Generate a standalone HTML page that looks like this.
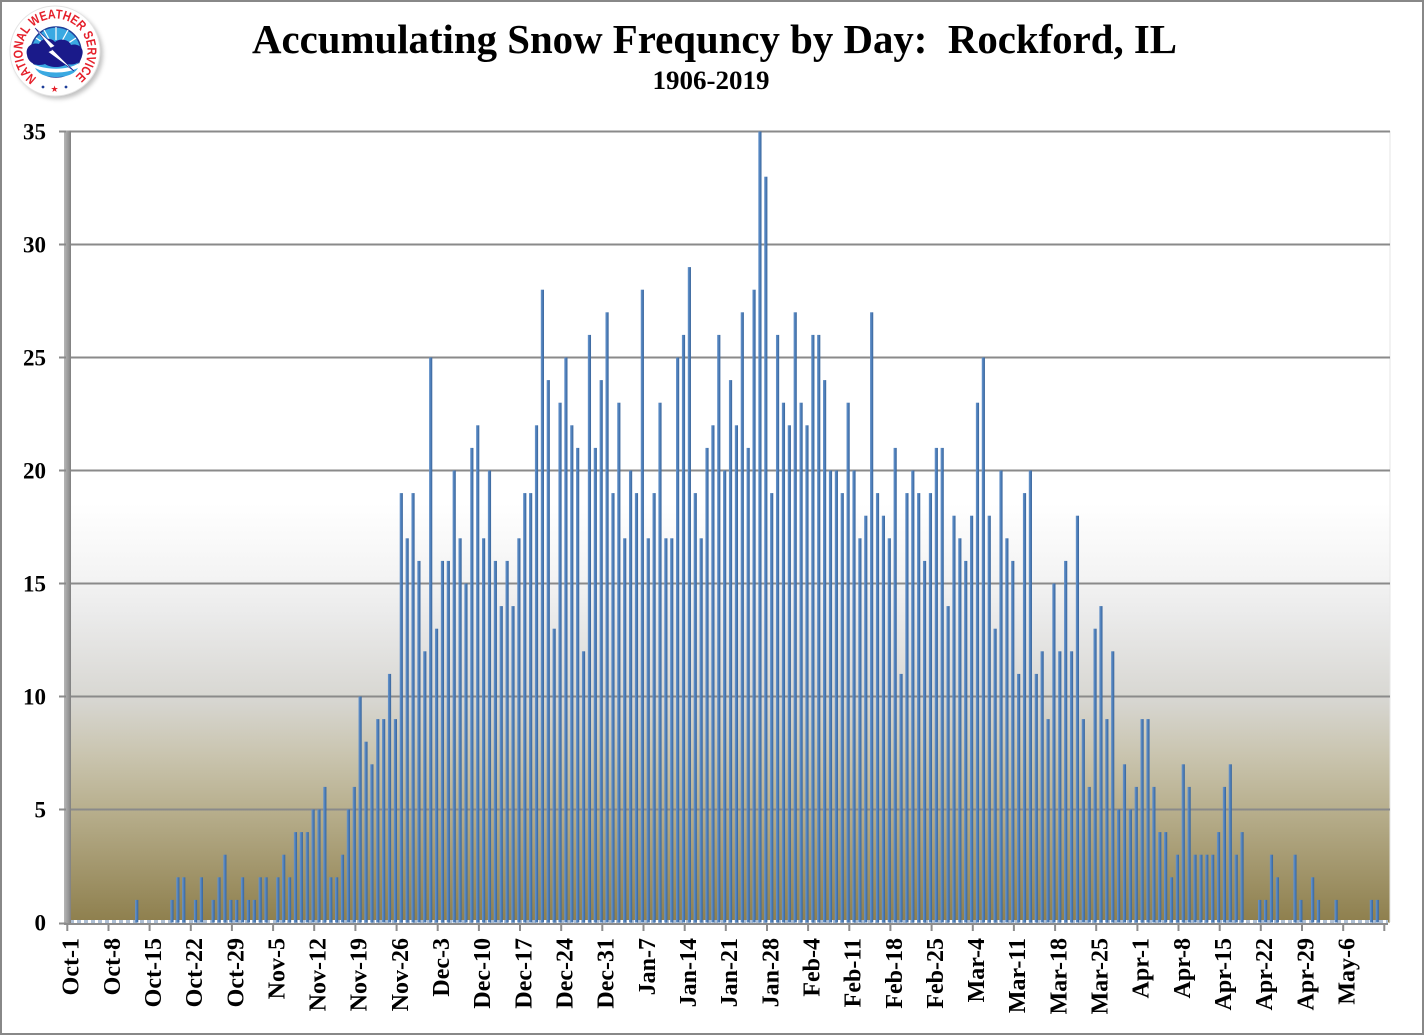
<!DOCTYPE html>
<html><head><meta charset="utf-8"><style>
html,body{margin:0;padding:0;background:#fff;}
svg{display:block;}
.t{font-family:"Liberation Serif",serif;font-weight:bold;fill:#000;}
</style></head><body>
<svg width="1424" height="1035" viewBox="0 0 1424 1035" xmlns="http://www.w3.org/2000/svg">
<defs>
<linearGradient id="bg" x1="0" y1="0" x2="0" y2="1">
<stop offset="0" stop-color="#ffffff"/>
<stop offset="0.47" stop-color="#ffffff"/>
<stop offset="0.56" stop-color="#f4f4f4"/>
<stop offset="0.61" stop-color="#ebebeb"/>
<stop offset="0.72" stop-color="#d7d6d1"/>
<stop offset="0.79" stop-color="#c9c4ae"/>
<stop offset="0.86" stop-color="#b7ae8c"/>
<stop offset="1" stop-color="#8e7f4d"/>
</linearGradient>
<linearGradient id="bar" x1="0" y1="0" x2="1" y2="0">
<stop offset="0" stop-color="#6a96cc"/>
<stop offset="0.45" stop-color="#4f81bd"/>
<stop offset="1" stop-color="#3a6498"/>
</linearGradient>
<linearGradient id="wall" x1="0" y1="0" x2="1" y2="0">
<stop offset="0" stop-color="#b5b5b5"/>
<stop offset="0.6" stop-color="#9a9a9a"/>
<stop offset="1" stop-color="#7f7f7f"/>
</linearGradient>
<filter id="blur" x="-20%" y="-20%" width="140%" height="140%"><feGaussianBlur stdDeviation="2"/></filter>
<path id="arc" d="M 36.8 77.9 A 32.5 32.5 0 1 1 73.2 77.9"/>
</defs>

<!-- outer frame -->
<rect x="1" y="1" width="1422" height="1033" fill="#fff" stroke="#888" stroke-width="2"/>

<!-- logo -->
<g>
<circle cx="58" cy="54" r="45" fill="#777" opacity=".45" filter="url(#blur)"/>
<circle cx="55" cy="51" r="45" fill="#fff" stroke="#e4e4e4" stroke-width="1"/>
<circle cx="56" cy="52" r="25" fill="#3aa9e2" stroke="#1f3f99" stroke-width="1.5"/>
<path d="M56 27 L56 40 M44 30 L50 41 M68 30 L62 41 M36 38 L45 44 M76 38 L67 44" stroke="#fff" stroke-width="1.2"/>
<path d="M27 55 C25 47 32 42 39 44 C41 38 51 37 55 42 C59 38 69 39 71 45 C78 43 85 48 82 56 C81 62 75 66 67 64 C61 68 51 68 45 64 C37 67 28 63 27 55 Z" fill="#1a1a8a"/>
<path d="M33 64 C45 70 67 71 79 63 L78 68 C66 75 46 75 34 68 Z" fill="#fff"/>
<path d="M35 68 C46 74 66 74 78 68 C74 75 65 77 56 77 C47 77 39 75 35 68 Z" fill="#3aa9e2"/>
<path d="M35 28 L55 46 L51 48 L74 71 L48 52 L52 50 Z" fill="#fff" stroke="#1a1a8a" stroke-width=".6"/>
<text font-family="Liberation Sans, sans-serif" font-weight="bold" font-size="13" fill="#e5202b"><textPath href="#arc" textLength="163" lengthAdjust="spacingAndGlyphs">NATIONAL WEATHER SERVICE</textPath></text>
<circle cx="43" cy="87" r="1.4" fill="#1f3f99"/>
<circle cx="66" cy="87" r="1.4" fill="#1f3f99"/>
<text x="54.5" y="92" font-family="DejaVu Sans, sans-serif" font-size="9" fill="#e5202b" text-anchor="middle">★</text>
</g>

<!-- titles -->
<text class="t" x="714.5" y="53" font-size="41" text-anchor="middle" textLength="925" lengthAdjust="spacingAndGlyphs">Accumulating Snow Frequncy by Day:&#160; Rockford, IL</text>
<text class="t" x="711" y="89" font-size="26" text-anchor="middle" textLength="117" lengthAdjust="spacingAndGlyphs">1906-2019</text>

<!-- plot background -->
<rect x="70" y="131.5" width="1320" height="791" fill="url(#bg)"/>
<line x1="1390" y1="131" x2="1390" y2="922" stroke="#e6e6e6" stroke-width="1"/>

<!-- gridlines -->
<g stroke="#8a8a8a" stroke-width="2">
<line x1="70" y1="131.5" x2="1390" y2="131.5"/>
<line x1="70" y1="244.5" x2="1390" y2="244.5"/>
<line x1="70" y1="357.5" x2="1390" y2="357.5"/>
<line x1="70" y1="470.5" x2="1390" y2="470.5"/>
<line x1="70" y1="583.5" x2="1390" y2="583.5"/>
<line x1="70" y1="696.5" x2="1390" y2="696.5"/>
<line x1="70" y1="809.5" x2="1390" y2="809.5"/>
</g>

<!-- floor -->
<line x1="70" y1="921.5" x2="1388" y2="921.5" stroke="#fff" stroke-width="3"/>
<line x1="70" y1="921.5" x2="1388" y2="921.5" stroke="#aebfd4" stroke-width="3" stroke-dasharray="4 3"/>

<!-- bars -->
<g transform="translate(135.1 922.5) scale(5.8795 -22.6)" fill="url(#bar)">
<rect x="0" width=".544" height="1"/>
<rect x="6" width=".544" height="1"/>
<rect x="7" width=".544" height="2"/>
<rect x="8" width=".544" height="2"/>
<rect x="10" width=".544" height="1"/>
<rect x="11" width=".544" height="2"/>
<rect x="13" width=".544" height="1"/>
<rect x="14" width=".544" height="2"/>
<rect x="15" width=".544" height="3"/>
<rect x="16" width=".544" height="1"/>
<rect x="17" width=".544" height="1"/>
<rect x="18" width=".544" height="2"/>
<rect x="19" width=".544" height="1"/>
<rect x="20" width=".544" height="1"/>
<rect x="21" width=".544" height="2"/>
<rect x="22" width=".544" height="2"/>
<rect x="24" width=".544" height="2"/>
<rect x="25" width=".544" height="3"/>
<rect x="26" width=".544" height="2"/>
<rect x="27" width=".544" height="4"/>
<rect x="28" width=".544" height="4"/>
<rect x="29" width=".544" height="4"/>
<rect x="30" width=".544" height="5"/>
<rect x="31" width=".544" height="5"/>
<rect x="32" width=".544" height="6"/>
<rect x="33" width=".544" height="2"/>
<rect x="34" width=".544" height="2"/>
<rect x="35" width=".544" height="3"/>
<rect x="36" width=".544" height="5"/>
<rect x="37" width=".544" height="6"/>
<rect x="38" width=".544" height="10"/>
<rect x="39" width=".544" height="8"/>
<rect x="40" width=".544" height="7"/>
<rect x="41" width=".544" height="9"/>
<rect x="42" width=".544" height="9"/>
<rect x="43" width=".544" height="11"/>
<rect x="44" width=".544" height="9"/>
<rect x="45" width=".544" height="19"/>
<rect x="46" width=".544" height="17"/>
<rect x="47" width=".544" height="19"/>
<rect x="48" width=".544" height="16"/>
<rect x="49" width=".544" height="12"/>
<rect x="50" width=".544" height="25"/>
<rect x="51" width=".544" height="13"/>
<rect x="52" width=".544" height="16"/>
<rect x="53" width=".544" height="16"/>
<rect x="54" width=".544" height="20"/>
<rect x="55" width=".544" height="17"/>
<rect x="56" width=".544" height="15"/>
<rect x="57" width=".544" height="21"/>
<rect x="58" width=".544" height="22"/>
<rect x="59" width=".544" height="17"/>
<rect x="60" width=".544" height="20"/>
<rect x="61" width=".544" height="16"/>
<rect x="62" width=".544" height="14"/>
<rect x="63" width=".544" height="16"/>
<rect x="64" width=".544" height="14"/>
<rect x="65" width=".544" height="17"/>
<rect x="66" width=".544" height="19"/>
<rect x="67" width=".544" height="19"/>
<rect x="68" width=".544" height="22"/>
<rect x="69" width=".544" height="28"/>
<rect x="70" width=".544" height="24"/>
<rect x="71" width=".544" height="13"/>
<rect x="72" width=".544" height="23"/>
<rect x="73" width=".544" height="25"/>
<rect x="74" width=".544" height="22"/>
<rect x="75" width=".544" height="21"/>
<rect x="76" width=".544" height="12"/>
<rect x="77" width=".544" height="26"/>
<rect x="78" width=".544" height="21"/>
<rect x="79" width=".544" height="24"/>
<rect x="80" width=".544" height="27"/>
<rect x="81" width=".544" height="19"/>
<rect x="82" width=".544" height="23"/>
<rect x="83" width=".544" height="17"/>
<rect x="84" width=".544" height="20"/>
<rect x="85" width=".544" height="19"/>
<rect x="86" width=".544" height="28"/>
<rect x="87" width=".544" height="17"/>
<rect x="88" width=".544" height="19"/>
<rect x="89" width=".544" height="23"/>
<rect x="90" width=".544" height="17"/>
<rect x="91" width=".544" height="17"/>
<rect x="92" width=".544" height="25"/>
<rect x="93" width=".544" height="26"/>
<rect x="94" width=".544" height="29"/>
<rect x="95" width=".544" height="19"/>
<rect x="96" width=".544" height="17"/>
<rect x="97" width=".544" height="21"/>
<rect x="98" width=".544" height="22"/>
<rect x="99" width=".544" height="26"/>
<rect x="100" width=".544" height="20"/>
<rect x="101" width=".544" height="24"/>
<rect x="102" width=".544" height="22"/>
<rect x="103" width=".544" height="27"/>
<rect x="104" width=".544" height="21"/>
<rect x="105" width=".544" height="28"/>
<rect x="106" width=".544" height="35"/>
<rect x="107" width=".544" height="33"/>
<rect x="108" width=".544" height="19"/>
<rect x="109" width=".544" height="26"/>
<rect x="110" width=".544" height="23"/>
<rect x="111" width=".544" height="22"/>
<rect x="112" width=".544" height="27"/>
<rect x="113" width=".544" height="23"/>
<rect x="114" width=".544" height="22"/>
<rect x="115" width=".544" height="26"/>
<rect x="116" width=".544" height="26"/>
<rect x="117" width=".544" height="24"/>
<rect x="118" width=".544" height="20"/>
<rect x="119" width=".544" height="20"/>
<rect x="120" width=".544" height="19"/>
<rect x="121" width=".544" height="23"/>
<rect x="122" width=".544" height="20"/>
<rect x="123" width=".544" height="17"/>
<rect x="124" width=".544" height="18"/>
<rect x="125" width=".544" height="27"/>
<rect x="126" width=".544" height="19"/>
<rect x="127" width=".544" height="18"/>
<rect x="128" width=".544" height="17"/>
<rect x="129" width=".544" height="21"/>
<rect x="130" width=".544" height="11"/>
<rect x="131" width=".544" height="19"/>
<rect x="132" width=".544" height="20"/>
<rect x="133" width=".544" height="19"/>
<rect x="134" width=".544" height="16"/>
<rect x="135" width=".544" height="19"/>
<rect x="136" width=".544" height="21"/>
<rect x="137" width=".544" height="21"/>
<rect x="138" width=".544" height="14"/>
<rect x="139" width=".544" height="18"/>
<rect x="140" width=".544" height="17"/>
<rect x="141" width=".544" height="16"/>
<rect x="142" width=".544" height="18"/>
<rect x="143" width=".544" height="23"/>
<rect x="144" width=".544" height="25"/>
<rect x="145" width=".544" height="18"/>
<rect x="146" width=".544" height="13"/>
<rect x="147" width=".544" height="20"/>
<rect x="148" width=".544" height="17"/>
<rect x="149" width=".544" height="16"/>
<rect x="150" width=".544" height="11"/>
<rect x="151" width=".544" height="19"/>
<rect x="152" width=".544" height="20"/>
<rect x="153" width=".544" height="11"/>
<rect x="154" width=".544" height="12"/>
<rect x="155" width=".544" height="9"/>
<rect x="156" width=".544" height="15"/>
<rect x="157" width=".544" height="12"/>
<rect x="158" width=".544" height="16"/>
<rect x="159" width=".544" height="12"/>
<rect x="160" width=".544" height="18"/>
<rect x="161" width=".544" height="9"/>
<rect x="162" width=".544" height="6"/>
<rect x="163" width=".544" height="13"/>
<rect x="164" width=".544" height="14"/>
<rect x="165" width=".544" height="9"/>
<rect x="166" width=".544" height="12"/>
<rect x="167" width=".544" height="5"/>
<rect x="168" width=".544" height="7"/>
<rect x="169" width=".544" height="5"/>
<rect x="170" width=".544" height="6"/>
<rect x="171" width=".544" height="9"/>
<rect x="172" width=".544" height="9"/>
<rect x="173" width=".544" height="6"/>
<rect x="174" width=".544" height="4"/>
<rect x="175" width=".544" height="4"/>
<rect x="176" width=".544" height="2"/>
<rect x="177" width=".544" height="3"/>
<rect x="178" width=".544" height="7"/>
<rect x="179" width=".544" height="6"/>
<rect x="180" width=".544" height="3"/>
<rect x="181" width=".544" height="3"/>
<rect x="182" width=".544" height="3"/>
<rect x="183" width=".544" height="3"/>
<rect x="184" width=".544" height="4"/>
<rect x="185" width=".544" height="6"/>
<rect x="186" width=".544" height="7"/>
<rect x="187" width=".544" height="3"/>
<rect x="188" width=".544" height="4"/>
<rect x="191" width=".544" height="1"/>
<rect x="192" width=".544" height="1"/>
<rect x="193" width=".544" height="3"/>
<rect x="194" width=".544" height="2"/>
<rect x="197" width=".544" height="3"/>
<rect x="198" width=".544" height="1"/>
<rect x="200" width=".544" height="2"/>
<rect x="201" width=".544" height="1"/>
<rect x="204" width=".544" height="1"/>
<rect x="210" width=".544" height="1"/>
<rect x="211" width=".544" height="1"/>
</g>

<!-- left wall / y axis -->
<rect x="64" y="130.5" width="7" height="793" fill="url(#wall)"/>
<g stroke="#8a8a8a" stroke-width="2">
<line x1="59" y1="131.5" x2="66" y2="131.5"/>
<line x1="59" y1="244.5" x2="66" y2="244.5"/>
<line x1="59" y1="357.5" x2="66" y2="357.5"/>
<line x1="59" y1="470.5" x2="66" y2="470.5"/>
<line x1="59" y1="583.5" x2="66" y2="583.5"/>
<line x1="59" y1="696.5" x2="66" y2="696.5"/>
<line x1="59" y1="809.5" x2="66" y2="809.5"/>
<line x1="59" y1="923.5" x2="66" y2="923.5"/>
</g>

<!-- x axis -->
<line x1="64" y1="924" x2="1388" y2="924" stroke="#8c8c8c" stroke-width="2"/>
<path stroke="#8c8c8c" stroke-width="2" fill="none" d="M67.3 924V931M108.5 924V931M149.6 924V931M190.8 924V931M231.9 924V931M273.1 924V931M314.2 924V931M355.4 924V931M396.6 924V931M437.7 924V931M478.9 924V931M520 924V931M561.2 924V931M602.3 924V931M643.5 924V931M684.7 924V931M725.8 924V931M767 924V931M808.1 924V931M849.3 924V931M890.4 924V931M931.6 924V931M972.8 924V931M1013.9 924V931M1055.1 924V931M1096.2 924V931M1137.4 924V931M1178.5 924V931M1219.7 924V931M1260.8 924V931M1302 924V931M1343.2 924V931M1384.3 924V931"/>

<!-- y labels -->
<g class="t" font-size="23" text-anchor="end">
<text x="46" y="139.5">35</text>
<text x="46" y="252.5">30</text>
<text x="46" y="365.5">25</text>
<text x="46" y="478.5">20</text>
<text x="46" y="591.5">15</text>
<text x="46" y="704.5">10</text>
<text x="46" y="817.5">5</text>
<text x="46" y="930.5">0</text>
</g>

<!-- x labels -->
<g class="t" font-size="24" text-anchor="end">
<text transform="translate(70.2 938) rotate(-90)" dy=".35em">Oct-1</text>
<text transform="translate(111.4 938) rotate(-90)" dy=".35em">Oct-8</text>
<text transform="translate(152.6 938) rotate(-90)" dy=".35em">Oct-15</text>
<text transform="translate(193.7 938) rotate(-90)" dy=".35em">Oct-22</text>
<text transform="translate(234.9 938) rotate(-90)" dy=".35em">Oct-29</text>
<text transform="translate(276 938) rotate(-90)" dy=".35em">Nov-5</text>
<text transform="translate(317.2 938) rotate(-90)" dy=".35em">Nov-12</text>
<text transform="translate(358.3 938) rotate(-90)" dy=".35em">Nov-19</text>
<text transform="translate(399.5 938) rotate(-90)" dy=".35em">Nov-26</text>
<text transform="translate(440.7 938) rotate(-90)" dy=".35em">Dec-3</text>
<text transform="translate(481.8 938) rotate(-90)" dy=".35em">Dec-10</text>
<text transform="translate(523 938) rotate(-90)" dy=".35em">Dec-17</text>
<text transform="translate(564.1 938) rotate(-90)" dy=".35em">Dec-24</text>
<text transform="translate(605.3 938) rotate(-90)" dy=".35em">Dec-31</text>
<text transform="translate(646.4 938) rotate(-90)" dy=".35em">Jan-7</text>
<text transform="translate(687.6 938) rotate(-90)" dy=".35em">Jan-14</text>
<text transform="translate(728.8 938) rotate(-90)" dy=".35em">Jan-21</text>
<text transform="translate(769.9 938) rotate(-90)" dy=".35em">Jan-28</text>
<text transform="translate(811.1 938) rotate(-90)" dy=".35em">Feb-4</text>
<text transform="translate(852.2 938) rotate(-90)" dy=".35em">Feb-11</text>
<text transform="translate(893.4 938) rotate(-90)" dy=".35em">Feb-18</text>
<text transform="translate(934.5 938) rotate(-90)" dy=".35em">Feb-25</text>
<text transform="translate(975.7 938) rotate(-90)" dy=".35em">Mar-4</text>
<text transform="translate(1016.8 938) rotate(-90)" dy=".35em">Mar-11</text>
<text transform="translate(1058 938) rotate(-90)" dy=".35em">Mar-18</text>
<text transform="translate(1099.2 938) rotate(-90)" dy=".35em">Mar-25</text>
<text transform="translate(1140.3 938) rotate(-90)" dy=".35em">Apr-1</text>
<text transform="translate(1181.5 938) rotate(-90)" dy=".35em">Apr-8</text>
<text transform="translate(1222.6 938) rotate(-90)" dy=".35em">Apr-15</text>
<text transform="translate(1263.8 938) rotate(-90)" dy=".35em">Apr-22</text>
<text transform="translate(1304.9 938) rotate(-90)" dy=".35em">Apr-29</text>
<text transform="translate(1346.1 938) rotate(-90)" dy=".35em">May-6</text>
</g>
</svg>
</body></html>
